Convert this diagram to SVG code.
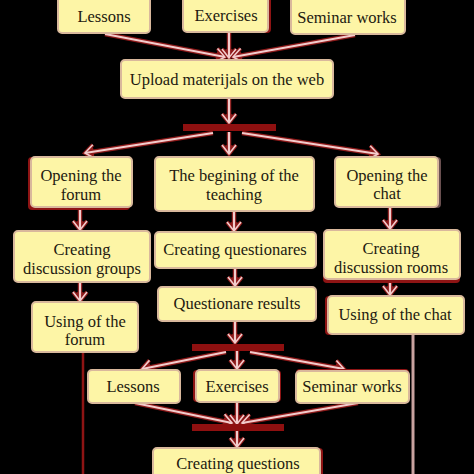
<svg xmlns="http://www.w3.org/2000/svg" width="474" height="474" viewBox="0 0 474 474">
<defs>
<style>
.box{fill:#fdf5a6;stroke:#d9b89c;stroke-width:2}
.sh{fill:#8e1414}
.t{font-family:'Liberation Serif','Times New Roman',Times,serif;font-size:16.5px;fill:#231a10;text-anchor:middle}
.cd{fill:none;stroke:#8e1a1a;stroke-width:4.5;marker-end:url(#hd)}
.cl{fill:none;stroke:#f2cccc;stroke-width:2.2;marker-end:url(#hl)}
.bar{fill:#8e1010}
</style>
<marker id="hd" markerUnits="userSpaceOnUse" viewBox="-12 -10 16 20" refX="0" refY="0" markerWidth="16" markerHeight="20" orient="auto" overflow="visible">
<path d="M-9,-7 L0,0 L-9,7 M-9,-2 L0,0 L-9,2" fill="none" stroke="#8e1a1a" stroke-width="3.8"/>
</marker>
<marker id="hl" markerUnits="userSpaceOnUse" viewBox="-12 -10 16 20" refX="0" refY="0" markerWidth="16" markerHeight="20" orient="auto" overflow="visible">
<path d="M-9,-7 L0,0 L-9,7" fill="none" stroke="#f2cccc" stroke-width="1.6"/>
</marker>
</defs>
<rect width="474" height="474" fill="#000"/>

<g id="connectors">
<path class="cd" d="M105,34 L225,57"/><path class="cl" d="M105,34 L225,57"/>
<path class="cd" d="M229,33 L229,58"/><path class="cl" d="M229,33 L229,58"/>
<path class="cd" d="M355,35 L233,57"/><path class="cl" d="M355,35 L233,57"/>
<path class="cd" d="M229,99 L229,123"/><path class="cl" d="M229,99 L229,123"/>
<path class="cd" d="M213,133 L85,153"/><path class="cl" d="M213,133 L85,153"/>
<path class="cd" d="M229,132 L229,154"/><path class="cl" d="M229,132 L229,154"/>
<path class="cd" d="M242,133 L378,154"/><path class="cl" d="M242,133 L378,154"/>
<path class="cd" d="M80,210 L80,230"/><path class="cl" d="M80,210 L80,230"/>
<path class="cd" d="M234,212 L234,231"/><path class="cl" d="M234,212 L234,231"/>
<path class="cd" d="M390,208 L390,229"/><path class="cl" d="M390,208 L390,229"/>
<path class="cd" d="M80,282 L80,301"/><path class="cl" d="M80,282 L80,301"/>
<path class="cd" d="M235,268 L235,286"/><path class="cl" d="M235,268 L235,286"/>
<path class="cd" d="M390,282 L390,295"/><path class="cl" d="M390,282 L390,295"/>
<path class="cd" d="M235,321 L235,343"/><path class="cl" d="M235,321 L235,343"/>
<path class="cd" d="M226,352 L142,369"/><path class="cl" d="M226,352 L142,369"/>
<path class="cd" d="M237,351 L237,369"/><path class="cl" d="M237,351 L237,369"/>
<path class="cd" d="M250,352 L344,369"/><path class="cl" d="M250,352 L344,369"/>
<path class="cd" d="M135,403 L232,423"/><path class="cl" d="M135,403 L232,423"/>
<path class="cd" d="M237,402 L237,424"/><path class="cl" d="M237,402 L237,424"/>
<path class="cd" d="M358,403 L242,423"/><path class="cl" d="M358,403 L242,423"/>
<path class="cd" d="M237,431 L237,447"/><path class="cl" d="M237,431 L237,447"/>
<path d="M83,353 L83,474" fill="none" stroke="#8e1414" stroke-width="2.5"/>
<path d="M413,335 L413,474" fill="none" stroke="#c9a3a0" stroke-width="3"/>
</g>

<g id="bars">
<rect class="bar" x="183" y="124" width="93" height="7"/>
<rect class="bar" x="192" y="344" width="92" height="7"/>
<rect class="bar" x="192" y="424" width="92" height="7"/>
</g>

<g id="n-lessons1">
<rect class="box" x="58" y="-4" width="92" height="37" rx="4"/>
<text class="t" x="104" y="22">Lessons</text>
</g>
<g id="n-exercises1">
<rect class="sh" x="185" y="-4" width="86" height="37" rx="4"/>
<rect class="box" x="183" y="-4" width="85" height="36" rx="4"/>
<text class="t" x="226" y="21">Exercises</text>
</g>
<g id="n-seminar1">
<rect class="box" x="291" y="-4" width="114" height="38" rx="4"/>
<text class="t" x="347" y="23">Seminar works</text>
</g>
<g id="n-upload">
<rect class="box" x="121" y="60" width="212" height="38" rx="4"/>
<text class="t" x="227" y="85">Upload materijals on the web</text>
</g>

<g id="n-open-forum">
<rect class="sh" x="28" y="157" width="102" height="53" rx="4"/>
<rect class="box" x="31" y="157" width="101" height="50" rx="4"/>
<text class="t" x="81" y="181">Opening the</text>
<text class="t" x="81" y="200">forum</text>
</g>
<g id="n-begin">
<rect class="box" x="155" y="157" width="159" height="54" rx="4"/>
<text class="t" x="234" y="181">The begining of the</text>
<text class="t" x="234" y="200">teaching</text>
</g>
<g id="n-open-chat">
<rect x="338" y="157" width="103" height="51" rx="4" fill="#6a5050"/>
<rect class="box" x="335" y="157" width="103" height="50" rx="4"/>
<text class="t" x="387" y="181">Opening the</text>
<text class="t" x="387" y="199">chat</text>
</g>

<g id="n-groups">
<rect class="box" x="14" y="231" width="136" height="51" rx="4"/>
<text class="t" x="82" y="255">Creating</text>
<text class="t" x="82" y="274">discussion groups</text>
</g>
<g id="n-questionares">
<rect class="box" x="155" y="232" width="161" height="36" rx="4"/>
<text class="t" x="235" y="255">Creating questionares</text>
</g>
<g id="n-rooms">
<rect class="sh" x="323" y="231" width="137" height="52" rx="4"/>
<rect class="box" x="324" y="230" width="136" height="49" rx="4"/>
<text class="t" x="391" y="254">Creating</text>
<text class="t" x="391" y="273">discussion rooms</text>
</g>

<g id="n-using-forum">
<rect class="box" x="32" y="302" width="106" height="50" rx="4"/>
<text class="t" x="85" y="327">Using of the</text>
<text class="t" x="85" y="345">forum</text>
</g>
<g id="n-results">
<rect class="box" x="158" y="287" width="158" height="34" rx="4"/>
<text class="t" x="237" y="309">Questionare results</text>
</g>
<g id="n-using-chat">
<rect class="sh" x="325" y="296" width="138" height="39" rx="4"/>
<rect class="box" x="328" y="296" width="136" height="38" rx="4"/>
<text class="t" x="395" y="320">Using of the chat</text>
</g>

<g id="n-lessons2">
<rect class="box" x="88" y="370" width="92" height="33" rx="4"/>
<text class="t" x="133" y="392">Lessons</text>
</g>
<g id="n-exercises2">
<rect class="sh" x="193" y="370" width="88" height="32" rx="4"/>
<rect class="box" x="196" y="370" width="83" height="32" rx="4"/>
<text class="t" x="237" y="392">Exercises</text>
</g>
<g id="n-seminar2">
<rect class="sh" x="296" y="369" width="113" height="34" rx="4"/>
<rect class="box" x="296" y="371" width="113" height="32" rx="4"/>
<text class="t" x="352" y="392">Seminar works</text>
</g>
<g id="n-questions">
<rect class="sh" x="155" y="448" width="168" height="32" rx="4"/>
<rect class="box" x="153" y="448" width="167" height="32" rx="4"/>
<text class="t" x="238" y="469">Creating questions</text>
</g>
</svg>
